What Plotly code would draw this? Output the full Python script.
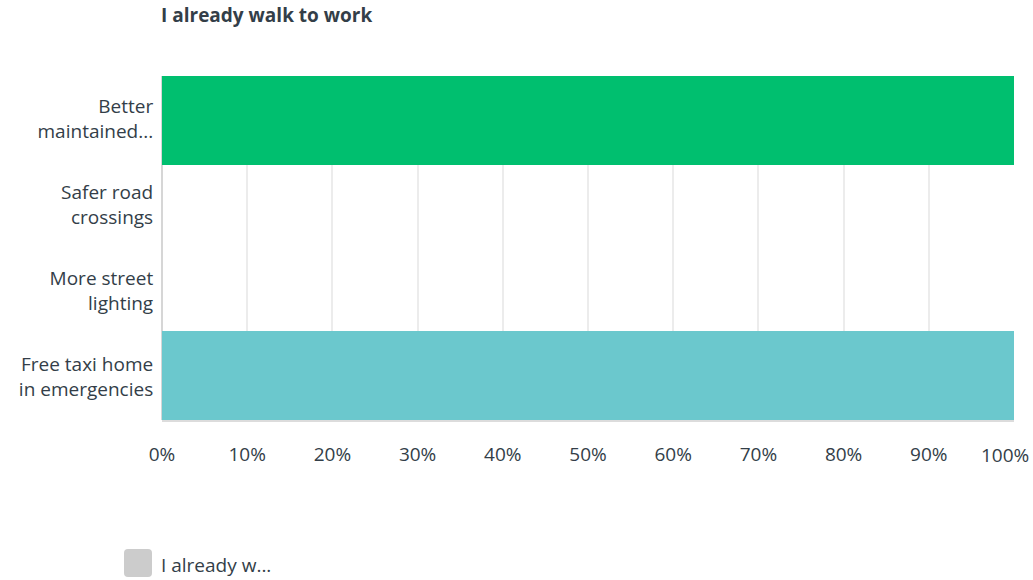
import plotly.graph_objects as go

# Survey question and answer options
title_text = "I already walk to work"
categories = ["Better<br>maintained...", "Safer road<br>crossings", "More street<br>lighting", "Free taxi home<br>in emergencies"]
values = [100, 0, 0, 100]
bar_colors = ["#00bf6f", "#00bf6f", "#6bc8cd", "#6bc8cd"]
series_name = "I already w..."
tick_values = [0, 10, 20, 30, 40, 50, 60, 70, 80, 90, 100]
tick_labels = ["0%", "10%", "20%", "30%", "40%", "50%", "60%", "70%", "80%", "90%", "100%"]

FONT = "Open Sans"
TEXT = "#333e48"
W, H = 1033, 580
ML, MR, MT, MB = 162, 19, 76, 160

# Outline each non-empty bar in its own colour so filled bars sit flush together
outline_colors = [c if v > 0 else "rgba(0,0,0,0)" for c, v in zip(bar_colors, values)]

fig = go.Figure()
fig.add_trace(go.Bar(
    x=values,
    y=categories,
    orientation="h",
    name=series_name,
    marker=dict(color=bar_colors, line=dict(width=6, color=outline_colors)),
    showlegend=False,
    hoverinfo="x+y",
))

fig.update_layout(
    width=W,
    height=H,
    margin=dict(l=ML, r=MR, t=MT, b=MB),
    paper_bgcolor="white",
    plot_bgcolor="white",
    bargap=0,
    font=dict(family=FONT, size=19, color=TEXT),
    xaxis=dict(
        range=[0, 100],
        tickvals=tick_values[:-1],
        ticktext=tick_labels[:-1],
        showgrid=True,
        gridcolor="#ececec",
        gridwidth=1.5,
        zeroline=True,
        zerolinecolor="#d6d6d6",
        zerolinewidth=2,
        showline=True,
        linecolor="#dcdcdc",
        linewidth=2,
        ticks="outside",
        ticklen=16,
        tickcolor="rgba(0,0,0,0)",
        tickfont=dict(size=19, color=TEXT),
        fixedrange=True,
    ),
    yaxis=dict(
        autorange="reversed",
        showgrid=False,
        zeroline=False,
        ticks="outside",
        ticklen=4,
        tickcolor="rgba(0,0,0,0)",
        tickfont=dict(size=19, color=TEXT),
        fixedrange=True,
    ),
    showlegend=False,
)

# Last tick label sits flush with the right edge of the page
fig.add_annotation(
    text=tick_labels[-1],
    xref="x", yref="paper",
    x=tick_values[-1], y=0,
    xanchor="right", yanchor="top",
    xshift=17, yshift=-20,
    showarrow=False,
    font=dict(family=FONT, size=19, color=TEXT),
)

# Chart title
fig.add_annotation(
    text="<b>" + title_text + "</b>",
    xref="paper", yref="paper",
    x=0, y=1, xanchor="left", yanchor="middle",
    xshift=-3, yshift=61,
    showarrow=False,
    font=dict(family=FONT, size=19, color=TEXT),
)

# Legend entry: rounded grey swatch and series name
fig.add_annotation(
    text=series_name,
    xref="paper", yref="paper",
    x=0, y=0, xanchor="left", yanchor="middle",
    xshift=-3, yshift=-145,
    showarrow=False,
    font=dict(family=FONT, size=19, color=TEXT),
)

plot_w = W - ML - MR
plot_h = H - MT - MB


def px(x):
    return (x - ML) / plot_w


def py(y):
    return (H - MB - y) / plot_h


x0, x1, y0, y1, r = 124, 152, 549, 577, 4
path = (
    f"M {px(x0 + r)},{py(y0)} L {px(x1 - r)},{py(y0)} "
    f"Q {px(x1)},{py(y0)} {px(x1)},{py(y0 + r)} L {px(x1)},{py(y1 - r)} "
    f"Q {px(x1)},{py(y1)} {px(x1 - r)},{py(y1)} L {px(x0 + r)},{py(y1)} "
    f"Q {px(x0)},{py(y1)} {px(x0)},{py(y1 - r)} L {px(x0)},{py(y0 + r)} "
    f"Q {px(x0)},{py(y0)} {px(x0 + r)},{py(y0)} Z"
)
fig.add_shape(
    type="path",
    xref="paper", yref="paper",
    path=path,
    fillcolor="#cccccc",
    line=dict(width=0),
    layer="above",
)

fig.write_html("out.html")
